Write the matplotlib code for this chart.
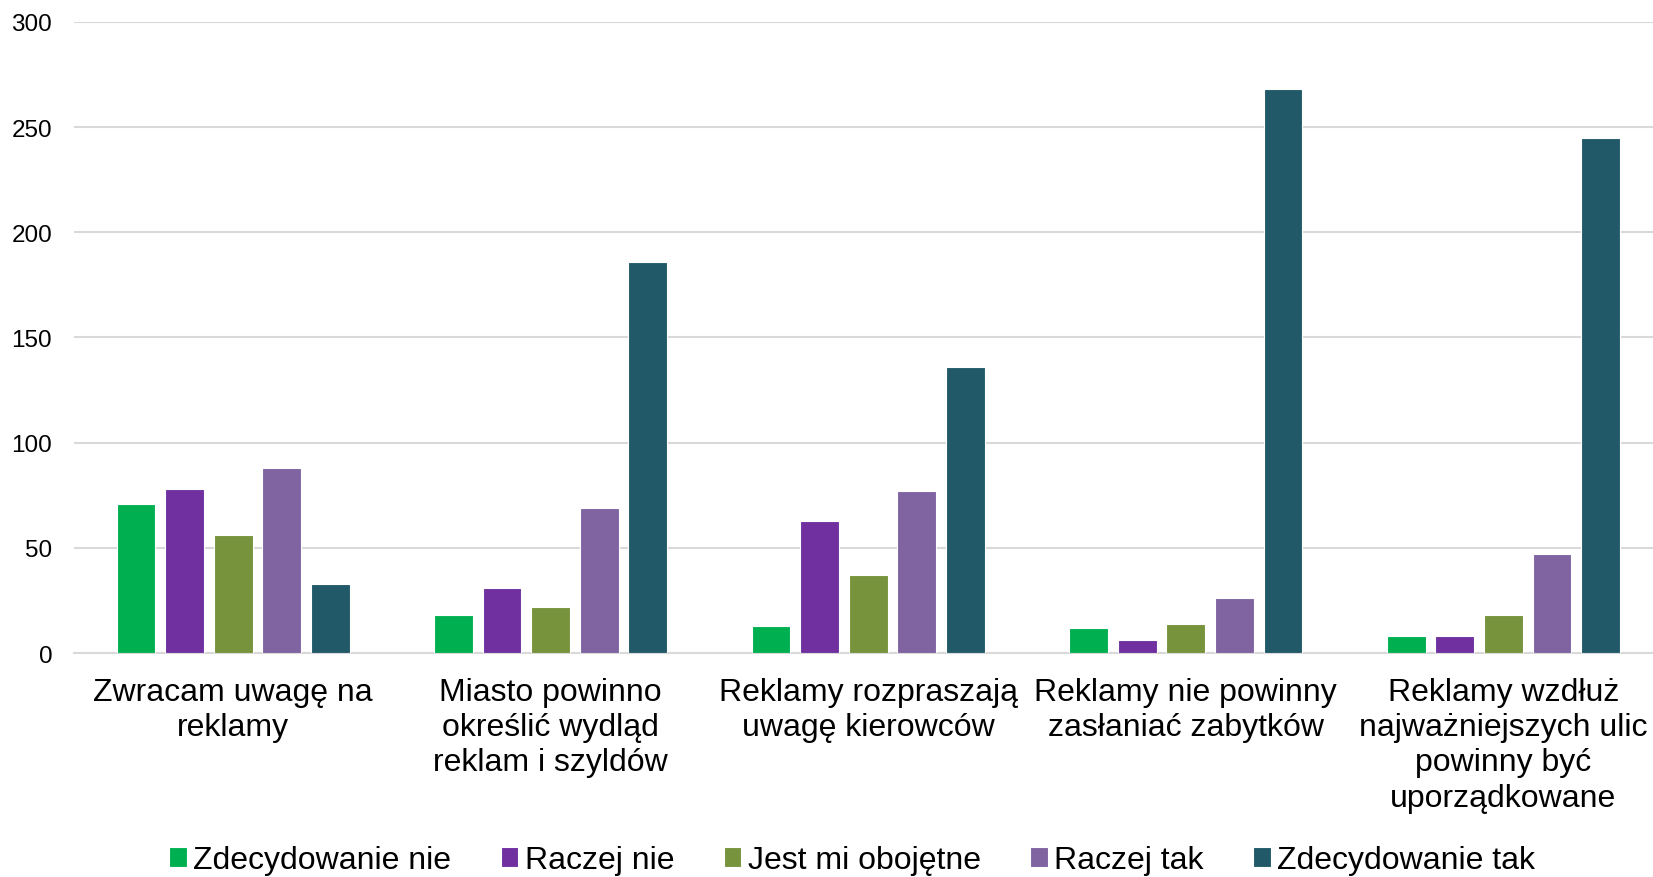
import numpy as np
from matplotlib import pyplot as plt

plt.rcParams['font.family'] = ['Liberation Sans', 'DejaVu Sans']

categories = ["Zwracam uwagę na\nreklamy",
              "Miasto powinno\nokreślić wydląd\nreklam i szyldów",
              "Reklamy rozpraszają\nuwagę kierowców",
              "Reklamy nie powinny\nzasłaniać zabytków",
              "Reklamy wzdłuż\nnajważniejszych ulic\npowinny być\nuporządkowane"]

series_names = ["Zdecydowanie nie", "Raczej nie", "Jest mi obojętne", "Raczej tak", "Zdecydowanie tak"]
zdecydowanie_nie = [71, 18, 13, 12, 8]
raczej_nie = [78, 31, 63, 6, 8]
obojetne = [56, 22, 37, 14, 18]
raczej_tak = [88, 69, 77, 26, 47]
zdecydowanie_tak = [33, 186, 136, 268, 245]
series = [zdecydowanie_nie, raczej_nie, obojetne, raczej_tak, zdecydowanie_tak]
colors = ['#00B050', '#7030A0', '#77933C', '#8064A2', '#215968']

fig = plt.figure(figsize=(16.53, 8.78), dpi=100)
ax = fig.add_axes([0.045, 0.255, 0.9605, 0.719])

x = np.arange(len(categories))
slot = 0.153
for i, vals in enumerate(series):
    ax.bar(x + (i - 2) * slot, vals, width=0.122, color=colors[i],
           edgecolor='white', linewidth=0.8, label=series_names[i], zorder=3)

ax.set_xlim(-0.5, 4.5)
ax.set_ylim(0, 300)
ax.set_yticks(range(0, 301, 50))
ax.grid(axis='y', color='#D9D9D9', linewidth=1.5, zorder=0)
for s in ['top', 'right', 'left']:
    ax.spines[s].set_visible(False)
ax.spines['bottom'].set_color('#D9D9D9')
ax.spines['bottom'].set_linewidth(1.5)
ax.tick_params(axis='both', length=0)
ax.tick_params(axis='y', labelsize=17.5, pad=16)
ax.set_xticks(x)
ax.set_xticklabels(categories, fontsize=23, linespacing=1.23)
ax.tick_params(axis='x', pad=17)

ax.legend(loc='lower center', bbox_to_anchor=(0.49, -0.397), ncol=5, frameon=False,
          fontsize=23, handlelength=0.55, handleheight=0.6, handletextpad=0.2,
          columnspacing=1.55)

fig.savefig('out.png', dpi=100)
